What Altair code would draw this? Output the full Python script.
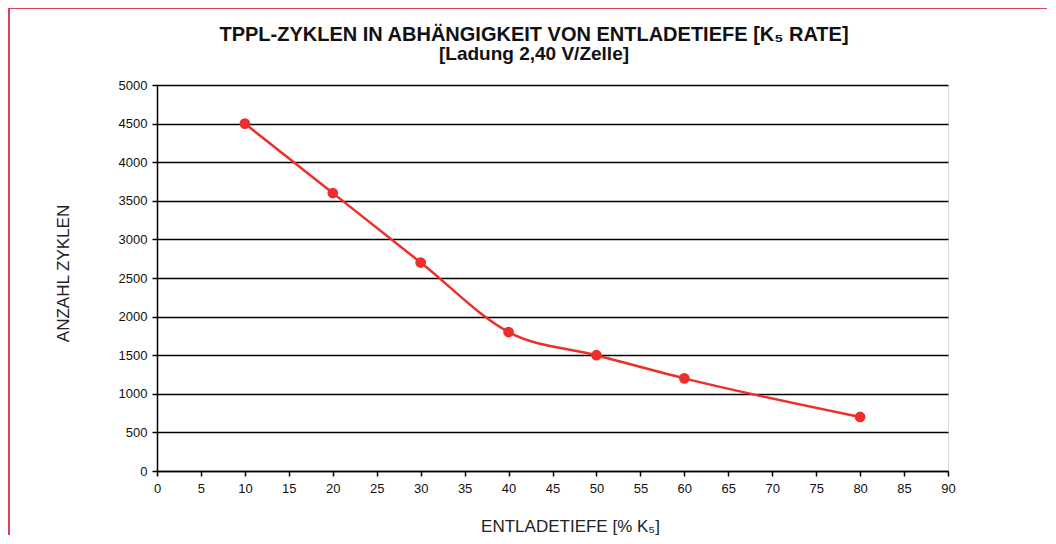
import altair as alt
import pandas as pd

depth = [10, 20, 30, 40, 50, 60, 80]
cycles = [4500, 3600, 2700, 1800, 1500, 1200, 700]
x_ticks = list(range(0, 95, 5))
y_ticks = list(range(0, 5500, 500))

title1 = "TPPL-ZYKLEN IN ABHÄNGIGKEIT VON ENTLADETIEFE [K₅ RATE]"
title2 = "[Ladung 2,40 V/Zelle]"
x_title = "ENTLADETIEFE [% K₅]"
y_title = "ANZAHL ZYKLEN"

df = pd.DataFrame({"depth": depth, "cycles": cycles})

W, H = 791, 386
RED = "#ec2f2a"
FONT = "Liberation Sans"

x_enc = alt.X("depth:Q", scale=alt.Scale(domain=[0, 90], nice=False),
              axis=alt.Axis(values=x_ticks, title=x_title, grid=False, format="d",
                            labelOverlap=False,
                            domainColor="black", domainWidth=1.5,
                            tickColor="black", tickSize=5, tickWidth=1.5,
                            labelFont=FONT, labelFontSize=13, labelColor="#111",
                            labelPadding=6, labelFlush=False,
                            titleFont=FONT, titleFontSize=17, titleFontWeight="normal",
                            titleColor="#222", titleX=413, titleY=60,
                            titleBaseline="alphabetic"))
y_enc = alt.Y("cycles:Q", scale=alt.Scale(domain=[0, 5000], nice=False),
              axis=alt.Axis(values=y_ticks, title=y_title, grid=True, format="d",
                            labelOverlap=False, tickCount=11,
                            gridColor="black", gridWidth=1.5, gridOpacity=1,
                            domainColor="black", domainWidth=1.5,
                            tickColor="black", tickSize=5, tickWidth=1.5,
                            labelFont=FONT, labelFontSize=13, labelColor="#111",
                            labelPadding=5,
                            titleFont=FONT, titleFontSize=17, titleFontWeight="normal",
                            titleColor="#222", titleAngle=270, titleX=-94, titleY=188,
                            titleAlign="center", titleBaseline="middle"))

line = alt.Chart(df).mark_line(color=RED, strokeWidth=2.5, interpolate="monotone").encode(
    x=x_enc, y=y_enc)
pts = alt.Chart(df).mark_circle(color=RED, size=115, opacity=1).encode(
    x="depth:Q", y="cycles:Q")

one = alt.Data(values=[{"a": 1}])
t1 = alt.Chart(one).mark_text(text=title1, font=FONT, fontSize=20, fontWeight="bold",
                              color="#111", align="center", baseline="alphabetic").encode(
    x=alt.value(377), y=alt.value(-44))
t2 = alt.Chart(one).mark_text(text=title2, font=FONT, fontSize=19, fontWeight="bold",
                              color="#111", align="center", baseline="alphabetic").encode(
    x=alt.value(377), y=alt.value(-25))

border_left = alt.Chart(one).mark_rule(color="#e0405c", strokeWidth=2).encode(
    x=alt.value(-148), y=alt.value(-77), y2=alt.value(H + 80))
border_top = alt.Chart(one).mark_rule(color="#e0405c", strokeWidth=2).encode(
    x=alt.value(-148), x2=alt.value(W + 120), y=alt.value(-77))

chart = alt.layer(line, pts, t1, t2, border_left, border_top).properties(
    width=W, height=H,
    autosize=alt.AutoSizeParams(type="none"),
    padding={"left": 149, "top": 77, "right": 99, "bottom": 64},
).configure_view(stroke="black", strokeWidth=1.5).configure(background="white")

chart.save("out.html", embed_options={"renderer": "svg", "actions": False})
